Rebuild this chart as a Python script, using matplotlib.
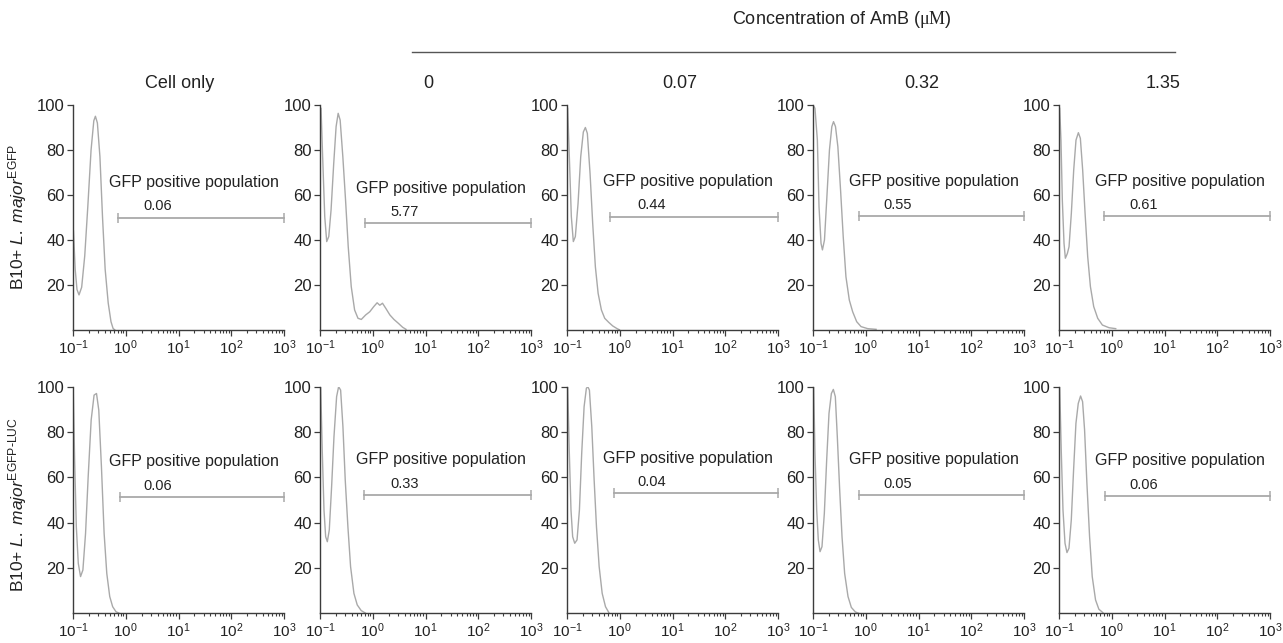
import matplotlib
matplotlib.use("Agg")
import matplotlib.pyplot as plt
from matplotlib.lines import Line2D
from matplotlib.ticker import LogLocator, NullFormatter
import matplotlib.transforms as mtransforms

plt.rcParams['font.family'] = ['Liberation Sans', 'DejaVu Sans']
plt.rcParams['mathtext.fontset'] = 'custom'
plt.rcParams['mathtext.rm'] = 'Liberation Serif'
plt.rcParams['mathtext.it'] = 'Liberation Sans:italic'
plt.rcParams['mathtext.sf'] = 'Liberation Sans'
plt.rcParams['axes.unicode_minus'] = False

# column / row headings
columns = ["Cell only", "0", "0.07", "0.32", "1.35"]
rows = [r"B10+ $\mathit{L.\ major}^{\mathsf{EGFP}}$",
        r"B10+ $\mathit{L.\ major}^{\mathsf{EGFP\text{-}LUC}}$"]

# histograms, B10+ L. major EGFP (fluorescence, % of max)
egfp_cell_x = [0.102, 0.110, 0.119, 0.130, 0.146, 0.167, 0.191, 0.220, 0.248, 0.266,
               0.290, 0.324, 0.363, 0.407, 0.465, 0.525, 0.575, 0.622]
egfp_cell_y = [44, 27, 18, 15.6, 19, 33, 55, 80, 93, 95, 92, 77, 50, 27, 12, 3.7, 0.7, 0]

egfp_0_x = [0.1047, 0.1122, 0.123, 0.134, 0.1466, 0.162, 0.182, 0.202, 0.221, 0.241,
            0.271, 0.305, 0.343, 0.391, 0.453, 0.525, 0.607, 0.735, 0.877, 1.045,
            1.21, 1.36, 1.53, 1.77, 2.11, 2.52, 3.05, 3.69, 4.27]
egfp_0_y = [98.5, 77, 50.4, 39.3, 41.5, 53.3, 74, 90.4, 96.3, 93.3,
            77, 57.8, 37, 19.3, 8.9, 5.2, 4.7, 6.7, 8.1, 10.4,
            12.1, 11.0, 11.9, 9.6, 6.7, 4.7, 3.0, 1.2, 0.3]

egfp_007_x = [0.103, 0.1107, 0.1208, 0.1318, 0.1439, 0.162, 0.182, 0.204, 0.223, 0.243,
              0.2735, 0.307, 0.345, 0.389, 0.449, 0.519, 0.618, 0.736, 0.891, 0.986]
egfp_007_y = [98.5, 77, 50.4, 39.3, 41.5, 56.3, 77, 88, 90, 87.4,
              69.6, 47.4, 28.1, 16.3, 8.9, 5.2, 3.4, 1.8, 0.6, 0.1]

egfp_032_x = [0.1047, 0.109, 0.121, 0.130, 0.142, 0.151, 0.165, 0.182, 0.205, 0.2275,
              0.245, 0.267, 0.296, 0.333, 0.374, 0.421, 0.488, 0.565, 0.673, 0.815,
              1.09, 1.57]
egfp_032_y = [99.3, 98.5, 84.4, 54.8, 38.5, 35.6, 40, 57.8, 80, 90.4,
              92.6, 90.4, 81.5, 62.2, 41.5, 23.7, 13.3, 8.1, 3.7, 1.5,
              0.6, 0.3]

egfp_135_x = [0.103, 0.109, 0.1156, 0.1245, 0.132, 0.144, 0.155, 0.1714, 0.19, 0.210,
              0.233, 0.254, 0.281, 0.312, 0.350, 0.394, 0.455, 0.542, 0.665, 0.891, 1.19]
egfp_135_y = [98.5, 84.4, 57.8, 38.5, 31.9, 34, 37, 51.9, 71.1, 84.4,
              87.7, 85.2, 71.1, 51.9, 32.6, 19.3, 10.4, 5.2, 2.2, 1.0, 0.6]

# histograms, B10+ L. major EGFP-LUC
luc_cell_x = [0.1014, 0.1074, 0.1156, 0.126, 0.139, 0.154, 0.173, 0.194, 0.221, 0.251,
              0.279, 0.308, 0.346, 0.389, 0.437, 0.497, 0.565, 0.653, 0.755]
luc_cell_y = [97, 67.6, 38.2, 22, 16.2, 19.1, 35.3, 60.3, 85.3, 96.3,
              97, 89.7, 64.7, 35.3, 17.6, 7.4, 2.9, 0.7, 0]

luc_0_x = [0.103, 0.1107, 0.119, 0.128, 0.1377, 0.15, 0.166, 0.184, 0.2065, 0.2254,
           0.246, 0.272, 0.301, 0.338, 0.380, 0.4395, 0.508, 0.604, 0.72]
luc_0_y = [100, 70.6, 45.6, 33.8, 31.6, 36.8, 55.9, 77.9, 95.6, 100,
           98.5, 82.4, 58.8, 38.2, 20.6, 8.8, 3.7, 1.2, 0.15]

luc_007_x = [0.103, 0.1107, 0.119, 0.128, 0.14, 0.155, 0.172, 0.19, 0.211, 0.233,
             0.248, 0.266, 0.295, 0.327, 0.362, 0.407, 0.4645, 0.537, 0.622]
luc_007_y = [100, 70.6, 45.6, 33.8, 30.9, 32.4, 45.6, 70.6, 91.2, 99.3,
             100, 98.5, 82.4, 58.8, 38.2, 20.6, 8.8, 2.9, 0.3]

luc_032_x = [0.103, 0.109, 0.1175, 0.126, 0.136, 0.148, 0.164, 0.1816, 0.201, 0.223,
             0.243, 0.265, 0.289, 0.3206, 0.355, 0.398, 0.461, 0.533, 0.635, 0.735]
luc_032_y = [100, 70.6, 45.6, 32.4, 27.2, 29.4, 44.1, 67.6, 88.2, 97,
             98.8, 95.6, 77.9, 54.4, 33.8, 17.6, 7.4, 2.6, 0.6, 0]

luc_135_x = [0.103, 0.1107, 0.119, 0.13, 0.1416, 0.1545, 0.171, 0.189, 0.2094, 0.2317,
             0.2564, 0.28, 0.3055, 0.338, 0.380, 0.4266, 0.493, 0.570, 0.679]
luc_135_y = [100, 70.6, 45.6, 30.9, 26.8, 28.7, 41.2, 63.2, 83.8, 92.6,
             95.9, 93.4, 80.9, 57.4, 33.8, 16.2, 5.9, 1.8, 0.3]

# gates ("GFP positive population")
gate_hi = 1000
egfp_gate_lo = [0.72, 0.72, 0.66, 0.76, 0.71]
egfp_gate_y = [50, 47.6, 50.4, 50.7, 50.5]
egfp_pct = ["0.06", "5.77", "0.44", "0.55", "0.61"]
luc_gate_lo = [0.79, 0.69, 0.78, 0.76, 0.76]
luc_gate_y = [51.3, 52.2, 52.9, 52.2, 51.8]
luc_pct = ["0.06", "0.33", "0.04", "0.05", "0.06"]

curves = [
    [(egfp_cell_x, egfp_cell_y), (egfp_0_x, egfp_0_y), (egfp_007_x, egfp_007_y),
     (egfp_032_x, egfp_032_y), (egfp_135_x, egfp_135_y)],
    [(luc_cell_x, luc_cell_y), (luc_0_x, luc_0_y), (luc_007_x, luc_007_y),
     (luc_032_x, luc_032_y), (luc_135_x, luc_135_y)],
]
gates = [(egfp_gate_lo, egfp_gate_y, egfp_pct), (luc_gate_lo, luc_gate_y, luc_pct)]

W, H = 1283, 643
fig = plt.figure(figsize=(W / 100, H / 100), dpi=100)

lefts = [73, 320, 567, 813, 1059]
panel_w = 211
row_top = [105, 386.7]
row_bot = [330, 613.3]
line_col = "#a9a9a9"
axis_col = "#3c3c3c"
text_col = "#222222"

for r in range(2):
    lo_list, gy_list, pct_list = gates[r]
    for c in range(5):
        ax = fig.add_axes([lefts[c] / W, 1 - row_bot[r] / H,
                           panel_w / W, (row_bot[r] - row_top[r]) / H])
        xs, ys = curves[r][c]
        ax.plot(xs, ys, color=line_col, lw=1.0)
        ax.set_xscale("log")
        ax.set_xlim(0.1, 1000)
        ax.set_ylim(0, 100)
        for s in ["top", "right"]:
            ax.spines[s].set_visible(False)
        for s in ["left", "bottom"]:
            ax.spines[s].set_color(axis_col)
            ax.spines[s].set_linewidth(1.0)
        ax.set_yticks([20, 40, 60, 80, 100])
        ax.xaxis.set_major_locator(LogLocator(base=10, numticks=10))
        ax.xaxis.set_minor_locator(LogLocator(base=10, subs=range(2, 10), numticks=20))
        ax.xaxis.set_minor_formatter(NullFormatter())
        ax.tick_params(axis="both", which="major", direction="out", length=4, width=0.9,
                       color=axis_col, labelcolor=text_col, labelsize=12, pad=2)
        ax.tick_params(axis="x", which="major", labelsize=11)
        ax.tick_params(axis="x", which="minor", direction="out", length=2.5, width=0.8,
                       color=axis_col)

        # gate bar
        lo, gy = lo_list[c], gy_list[c]
        ax.plot([lo, gate_hi], [gy, gy], color=line_col, lw=1.3, clip_on=False)
        ax.plot([lo, gate_hi], [gy, gy], ls="none", marker="|", ms=7, mew=1.1,
                color=line_col, clip_on=False)
        trans = mtransforms.blended_transform_factory(ax.transAxes, ax.transData)
        ax.text(0.575, gy + 15.5, "GFP positive population", transform=trans,
                ha="center", va="center", fontsize=11.5, color=text_col)
        ax.text(0.40, gy + 5, pct_list[c], transform=trans,
                ha="center", va="center", fontsize=10.5, color=text_col)

# headings
head_x = [180, 428, 680, 922, 1163]
for c in range(5):
    fig.text(head_x[c] / W, 1 - 83 / H, columns[c], ha="center", va="center",
             fontsize=13, color=text_col)
fig.text(842 / W, 1 - 20 / H, r"Concentration of AmB ($\mathrm{\mu M}$)",
         ha="center", va="center", fontsize=13, color=text_col)
fig.add_artist(Line2D([412 / W, 1175 / W], [1 - 52 / H, 1 - 52 / H],
                      color="#555555", lw=1.0))

row_y = [217, 505]
for r in range(2):
    fig.text(18 / W, 1 - row_y[r] / H, rows[r], rotation=90, ha="center", va="center",
             fontsize=12.5, color=text_col)

fig.savefig("out.png", dpi=100)
